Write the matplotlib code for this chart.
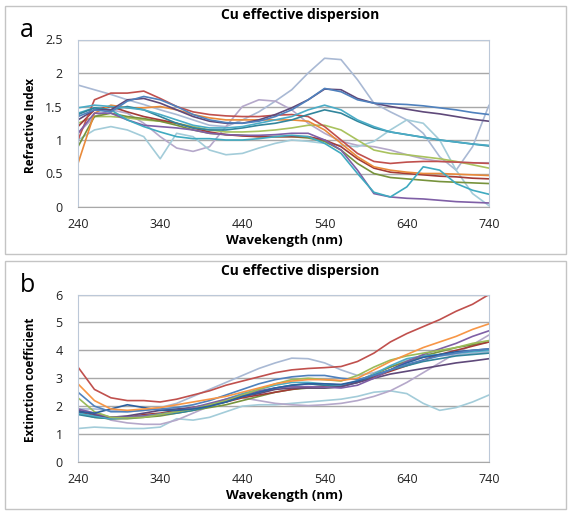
import matplotlib
matplotlib.use("Agg")
import matplotlib.pyplot as plt
from matplotlib.patches import Rectangle
import numpy as np

plt.rcParams["font.family"] = ["Open Sans", "DejaVu Sans"]

W, H = 571, 516

wavelength = list(range(240, 741, 20))
x_ticks = [240, 340, 440, 540, 640, 740]

# --- panel a: refractive index n ---
n_blue = [1.35, 1.45, 1.42, 1.58, 1.65, 1.6, 1.5, 1.38, 1.3, 1.26, 1.25, 1.28, 1.35, 1.45, 1.6, 1.77, 1.72, 1.6, 1.55, 1.54, 1.53, 1.51, 1.48, 1.45, 1.41, 1.38]
n_dpurple = [1.3, 1.45, 1.45, 1.6, 1.62, 1.55, 1.45, 1.35, 1.28, 1.25, 1.25, 1.3, 1.38, 1.48, 1.6, 1.76, 1.75, 1.62, 1.55, 1.5, 1.46, 1.42, 1.39, 1.35, 1.31, 1.28]
n_teal = [1.48, 1.52, 1.5, 1.48, 1.45, 1.38, 1.3, 1.22, 1.18, 1.18, 1.2, 1.25, 1.3, 1.35, 1.45, 1.52, 1.45, 1.3, 1.2, 1.12, 1.08, 1.04, 1.0, 0.97, 0.94, 0.92]
n_dteal = [1.38, 1.48, 1.45, 1.5, 1.45, 1.35, 1.25, 1.18, 1.15, 1.15, 1.18, 1.22, 1.25, 1.3, 1.38, 1.45, 1.4, 1.28, 1.18, 1.12, 1.08, 1.04, 1.0, 0.97, 0.94, 0.91]
n_red = [1.0, 1.6, 1.7, 1.7, 1.73, 1.62, 1.5, 1.42, 1.38, 1.36, 1.35, 1.35, 1.37, 1.38, 1.35, 1.2, 1.0, 0.8, 0.68, 0.65, 0.67, 0.68, 0.68, 0.67, 0.66, 0.65]
n_lgreen = [1.25, 1.35, 1.35, 1.33, 1.3, 1.28, 1.25, 1.2, 1.15, 1.12, 1.12, 1.13, 1.15, 1.18, 1.22, 1.22, 1.15, 1.0, 0.85, 0.8, 0.78, 0.75, 0.72, 0.68, 0.63, 0.58]
n_orange = [0.65, 1.4, 1.52, 1.48, 1.48, 1.5, 1.45, 1.38, 1.33, 1.3, 1.3, 1.3, 1.3, 1.3, 1.28, 1.15, 0.95, 0.75, 0.6, 0.55, 0.52, 0.5, 0.5, 0.49, 0.48, 0.47]
n_dred = [1.2, 1.45, 1.5, 1.42, 1.35, 1.3, 1.25, 1.18, 1.12, 1.08, 1.06, 1.05, 1.05, 1.05, 1.05, 1.0, 0.9, 0.72, 0.58, 0.52, 0.5, 0.48, 0.46, 0.45, 0.43, 0.42]
n_dgreen = [0.9, 1.35, 1.4, 1.35, 1.32, 1.28, 1.22, 1.15, 1.1, 1.08, 1.07, 1.05, 1.05, 1.05, 1.03, 0.98, 0.85, 0.65, 0.5, 0.44, 0.42, 0.4, 0.38, 0.37, 0.36, 0.35]
n_aqua = [1.4, 1.48, 1.45, 1.3, 1.2, 1.12, 1.05, 1.02, 1.02, 1.0, 1.0, 1.02, 1.05, 1.07, 1.05, 0.95, 0.8, 0.5, 0.22, 0.15, 0.3, 0.6, 0.55, 0.35, 0.25, 0.19]
n_purple = [1.1, 1.4, 1.4, 1.3, 1.22, 1.2, 1.18, 1.15, 1.1, 1.08, 1.07, 1.07, 1.08, 1.1, 1.1, 1.0, 0.85, 0.55, 0.2, 0.15, 0.13, 0.12, 0.1, 0.08, 0.07, 0.06]
n_laqua = [1.0, 1.15, 1.2, 1.15, 1.05, 0.72, 1.1, 1.05, 0.85, 0.78, 0.8, 0.88, 0.95, 1.0, 0.98, 0.95, 0.92, 0.9, 0.98, 1.15, 1.3, 1.25, 1.0, 0.55, 0.2, 0.02]
n_steel = [1.82, 1.75, 1.68, 1.6, 1.53, 1.45, 1.38, 1.3, 1.22, 1.2, 1.3, 1.42, 1.58, 1.75, 2.0, 2.22, 2.2, 1.9, 1.55, 1.42, 1.3, 1.1, 0.75, 0.55, 0.9, 1.52]
n_lavender = [1.1, 1.35, 1.45, 1.4, 1.25, 1.05, 0.88, 0.83, 0.9, 1.2, 1.5, 1.6, 1.58, 1.45, 1.25, 1.1, 0.98, 0.92, 0.9, 0.85, 0.78, 0.72, 0.68, 0.67, 0.66, 0.66]

# --- panel b: extinction coefficient k ---
k_red = [3.4, 2.6, 2.3, 2.2, 2.2, 2.15, 2.25, 2.4, 2.55, 2.75, 2.9, 3.05, 3.2, 3.3, 3.35, 3.38, 3.42, 3.6, 3.9, 4.3, 4.6, 4.85, 5.1, 5.4, 5.65, 6.0]
k_orange = [2.8, 2.2, 1.9, 1.85, 1.9, 1.95, 2.05, 2.15, 2.25, 2.35, 2.5, 2.65, 2.8, 2.9, 2.95, 2.95, 2.92, 3.0, 3.3, 3.6, 3.85, 4.1, 4.3, 4.5, 4.75, 4.95]
k_blue = [2.5, 2.0, 1.8, 1.8, 1.85, 1.9, 1.95, 2.05, 2.2, 2.4, 2.6, 2.8, 2.95, 3.05, 3.1, 3.1, 3.0, 2.95, 3.1, 3.3, 3.5, 3.65, 3.8, 3.9, 4.0, 4.05]
k_steel = [1.9, 1.9, 1.85, 1.8, 1.85, 1.95, 2.1, 2.35, 2.6, 2.85, 3.1, 3.35, 3.55, 3.72, 3.7, 3.55, 3.3, 3.1, 3.2, 3.4, 3.65, 3.75, 3.8, 3.85, 3.9, 3.95]
k_lavender = [1.9, 1.75, 1.5, 1.4, 1.35, 1.35, 1.5, 1.75, 2.0, 2.2, 2.3, 2.2, 2.1, 2.05, 2.02, 2.05, 2.1, 2.2, 2.35, 2.55, 2.85, 3.2, 3.55, 3.9, 4.2, 4.55]
k_laqua = [1.2, 1.25, 1.22, 1.2, 1.2, 1.25, 1.55, 1.5, 1.6, 1.8, 2.0, 2.05, 2.05, 2.1, 2.15, 2.2, 2.25, 2.35, 2.5, 2.55, 2.45, 2.1, 1.85, 1.95, 2.15, 2.4]
k_purple = [1.9, 1.75, 1.6, 1.6, 1.65, 1.7, 1.8, 1.95, 2.1, 2.25, 2.4, 2.55, 2.65, 2.7, 2.7, 2.68, 2.65, 2.75, 3.0, 3.3, 3.6, 3.85, 4.05, 4.25, 4.5, 4.7]
k_dpurple = [1.85, 1.7, 1.6, 1.65, 1.75, 1.85, 1.9, 1.95, 2.05, 2.2, 2.35, 2.45, 2.6, 2.65, 2.65, 2.65, 2.7, 2.85, 3.0, 3.15, 3.25, 3.35, 3.45, 3.55, 3.62, 3.7]
k_green = [2.3, 1.8, 1.6, 1.58, 1.6, 1.7, 1.8, 1.9, 2.05, 2.2, 2.4, 2.6, 2.8, 2.95, 3.0, 2.95, 2.9, 3.1, 3.4, 3.65, 3.8, 3.9, 4.0, 4.1, 4.25, 4.35]
k_dred = [1.8, 1.65, 1.6, 1.6, 1.7, 1.75, 1.85, 1.95, 2.05, 2.15, 2.3, 2.4, 2.5, 2.6, 2.68, 2.72, 2.75, 2.85, 3.05, 3.25, 3.45, 3.65, 3.85, 4.0, 4.15, 4.3]
k_teal = [1.75, 1.65, 1.55, 1.6, 1.65, 1.72, 1.8, 1.9, 2.05, 2.25, 2.45, 2.6, 2.75, 2.85, 2.85, 2.8, 2.75, 2.9, 3.15, 3.45, 3.7, 3.8, 3.85, 3.9, 3.95, 4.0]
k_dteal = [1.7, 1.6, 1.55, 1.58, 1.62, 1.7, 1.75, 1.85, 2.0, 2.15, 2.35, 2.5, 2.65, 2.75, 2.8, 2.75, 2.7, 2.85, 3.1, 3.3, 3.45, 3.6, 3.7, 3.8, 3.85, 3.9]
k_dblue = [1.8, 1.75, 1.9, 2.05, 1.95, 1.85, 1.85, 1.9, 2.0, 2.15, 2.35, 2.5, 2.65, 2.75, 2.8, 2.8, 2.78, 2.9, 3.1, 3.3, 3.55, 3.75, 3.85, 3.95, 4.0, 4.05]
k_olive = [1.75, 1.6, 1.55, 1.55, 1.6, 1.65, 1.75, 1.85, 1.95, 2.05, 2.2, 2.35, 2.5, 2.6, 2.65, 2.65, 2.7, 2.9, 3.15, 3.4, 3.6, 3.8, 3.95, 4.1, 4.2, 4.3]

series_a = [
    (n_steel, "#A9B9D4"), (n_lavender, "#B5A8CA"), (n_laqua, "#A3CCD9"),
    (n_lgreen, "#A9C25E"), (n_dgreen, "#77933C"), (n_dred, "#A33B37"),
    (n_orange, "#E98A3A"), (n_red, "#C0504D"), (n_purple, "#7F5FA6"),
    (n_aqua, "#3FAAC0"), (n_dteal, "#31859C"), (n_teal, "#4BACC6"),
    (n_dpurple, "#5F497A"), (n_blue, "#4F81BD"),
]
series_b = [
    (k_laqua, "#A3CCD9"), (k_lavender, "#B5A8CA"), (k_steel, "#A9B9D4"),
    (k_olive, "#77933C"), (k_dred, "#A33B37"), (k_dteal, "#31859C"),
    (k_teal, "#4BACC6"), (k_dpurple, "#5F497A"), (k_purple, "#7F5FA6"),
    (k_green, "#9BBB59"), (k_dblue, "#2C5F9E"), (k_blue, "#4F81BD"),
    (k_orange, "#F79646"), (k_red, "#C0504D"),
]


def fx(x):
    return x / W


def fy(y):
    return 1 - y / H


def panel(top, series, ylim, yticks, ylabel, letter):
    left, right, bottom = 78, 489, top + 167.5
    # outer box of the panel
    fig.add_artist(Rectangle((fx(5), fy(top - 34 + 248)), fx(561), 248 / H,
                             transform=fig.transFigure, fill=False,
                             edgecolor="#C4C4C4", lw=1.0))
    ax = fig.add_axes([fx(left), fy(bottom), fx(right - left), (bottom - top) / H])
    for ys, c in series:
        ax.plot(wavelength, ys, color=c, lw=1.2, solid_capstyle="round",
                solid_joinstyle="round")
    ax.set_xlim(240, 740)
    ax.set_ylim(*ylim)
    ax.set_xticks(x_ticks)
    ax.set_yticks(yticks)
    ax.set_yticklabels([f"{t:g}" for t in yticks])
    ax.grid(axis="y", color="#A8A8A8", lw=1.0)
    ax.set_axisbelow(True)
    for s in ax.spines.values():
        s.set_color("#BCC8D8")
    ax.spines["bottom"].set_color("#A8A8A8")
    ax.tick_params(length=0, labelsize=9, colors="#222222")
    ax.tick_params(axis="y", pad=11)
    ax.tick_params(axis="x", pad=8)
    fig.text(fx(300), fy(top - 24), "Cu effective dispersion", ha="center",
             va="center", fontsize=10, fontweight="bold")
    fig.text(fx(284), fy(bottom + 34), "Wavekength (nm)", ha="center",
             va="center", fontsize=9.5, fontweight="bold")
    fig.text(fx(31), fy((top + bottom) / 2 + 2), ylabel, ha="center", va="center",
             rotation=90, fontsize=8.5, fontweight="bold")
    fig.text(fx(27), fy(top - 9), letter, ha="center", va="center", fontsize=18)
    return ax


fig = plt.figure(figsize=(W / 100, H / 100), dpi=100)
panel(39.5, series_a, (0, 2.5), [0, 0.5, 1, 1.5, 2, 2.5], "Refractive Index", "a")
panel(294.5, series_b, (0, 6), [0, 1, 2, 3, 4, 5, 6], "Extinction coefficient", "b")
fig.savefig("out.png", dpi=100)
